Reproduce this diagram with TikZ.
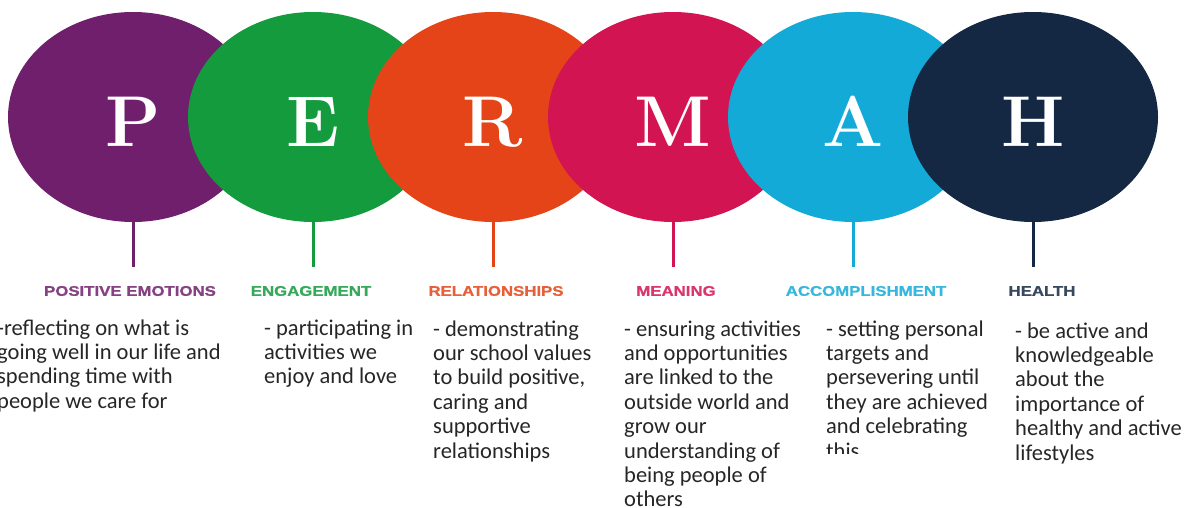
\documentclass[tikz,border=0pt]{standalone}
\usepackage{fontspec}
\usepackage{tikz}
\usetikzlibrary{positioning,shapes.geometric}
\newfontfamily\blurbfont{Carlito}
\newfontfamily\tagfont[FakeStretch=1.2,FakeBold=1]{Liberation Sans Bold}
\newcommand\bigletter{\fontsize{72}{72}\selectfont\bfseries}
\definecolor{permaP}{HTML}{701F6C}
\definecolor{permaE}{HTML}{139B3D}
\definecolor{permaR}{HTML}{E44417}
\definecolor{permaM}{HTML}{D21452}
\definecolor{permaA}{HTML}{14AAD7}
\definecolor{permaH}{HTML}{142843}
\begin{document}
\begin{tikzpicture}[
  x=1pt,y=1pt,
  node distance=-70pt,
  ball/.style={ellipse,fill=#1,minimum width=250pt,minimum height=210pt,inner sep=0pt,outer sep=0pt,text=white,font=\bigletter,text height=59pt,text depth=0pt},
  tag/.style={text=#1!85,font=\tagfont\fontsize{14}{14}\selectfont,inner sep=0pt},
  blurb/.style={anchor=base west,align=left,text=black!85,inner sep=0pt,font=\blurbfont\fontsize{22.5}{24.4}\selectfont}
]
\useasboundingbox (0,0) rectangle (1188,-508);
\node[ball=permaP] at (133,-117) (p) {P};
\node[ball=permaE,right=of p] (e) {E};
\node[ball=permaR,right=of e] (r) {R};
\node[ball=permaM,right=of r] (m) {M};
\node[ball=permaA,right=of m] (a) {A};
\node[ball=permaH,right=of a] (h) {H};
\foreach \n/\c in {p/permaP,e/permaE,r/permaR,m/permaM,a/permaA,h/permaH}
  \draw[\c,line width=3pt] (\n.south) -- ([yshift=-45pt]\n.south);
\node[tag=permaP] (p-tag) at (130,-291) {POSITIVE EMOTIONS};
\node[tag=permaE] (e-tag) at (311,-291) {ENGAGEMENT};
\node[tag=permaR] (r-tag) at (496,-291) {RELATIONSHIPS};
\node[tag=permaM] (m-tag) at (676,-291) {MEANING};
\node[tag=permaA] (a-tag) at (866,-291) {ACCOMPLISHMENT};
\node[tag=permaH] (h-tag) at (1042,-291) {HEALTH};
% blurbs sit on the baseline of their last line
\node[blurb] (p-text) at (-3,-408.2) {-reflecting on what is\\going well in our life and\\spending time with\\people we care for};
\node[blurb] (e-text) at (264,-383.8) {- participating in\\activities we\\enjoy and love};
\node[blurb] (r-text) at (433,-458) {- demonstrating\\our school values\\to build positive,\\caring and\\supportive\\relationships};
\node[blurb] (m-text) at (624,-506.8) {- ensuring activities\\and opportunities\\are linked to the\\outside world and\\grow our\\understanding of\\being people of\\others};
\begin{scope}
  \clip (800,-300) rectangle (1000,-453);
  \node[blurb] (a-text) at (826,-458) {- setting personal\\targets and\\persevering until\\they are achieved\\and celebrating\\this};
\end{scope}
\node[blurb] (h-text) at (1015,-460) {- be active and\\knowledgeable\\about the\\importance of\\healthy and active\\lifestyles};
\end{tikzpicture}
\end{document}
